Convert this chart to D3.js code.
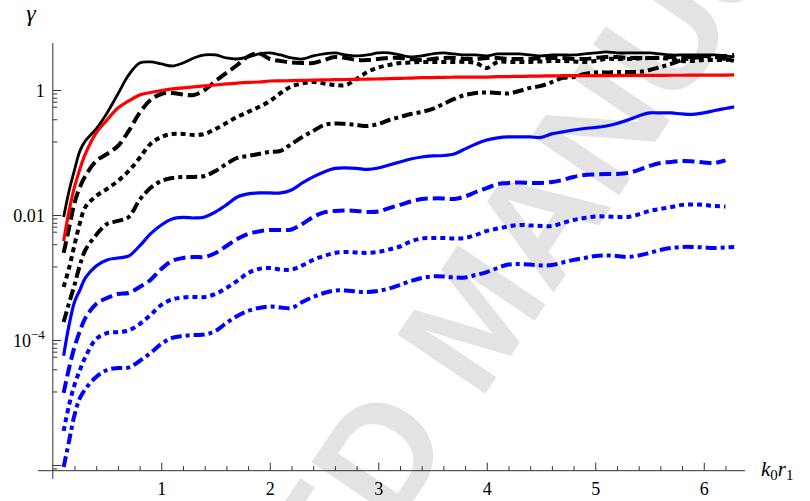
<!DOCTYPE html>
<html>
<head>
<meta charset="utf-8">
<title>gamma vs k0 r1</title>
<script src="https://d3js.org/d3.v7.min.js"></script>
<style>
  body { margin: 0; background: #fff; }
  svg { display: block; }
  .serif { font-family: "Liberation Serif", "Times New Roman", Times, "DejaVu Serif", serif; }
  .tick text { font-family: "Liberation Serif", "Times New Roman", Times, "DejaVu Serif", serif; font-size: 18px; fill: #000; }
</style>
</head>
<body>
<svg width="810" height="501"></svg>
<script>
// k0 r1 sample points
var xs = [0.1, 0.15, 0.2, 0.25, 0.3,
  0.4, 0.5, 0.6, 0.7, 0.8, 0.9, 1.0, 1.1, 1.2, 1.3, 1.4, 1.5, 1.6, 1.7, 1.8, 1.9,
  2.0, 2.1, 2.2, 2.3, 2.4, 2.5, 2.6, 2.7, 2.8, 2.9, 3.0, 3.1, 3.2, 3.3, 3.4, 3.5,
  3.6, 3.7, 3.8, 3.9, 4.0, 4.1, 4.2, 4.3, 4.4, 4.5, 4.6, 4.7, 4.8, 4.9, 5.0, 5.1,
  5.2, 5.3, 5.4, 5.5, 5.6, 5.7, 5.8, 5.9, 6.0, 6.1, 6.2, 6.28];

// gamma, black curves
var blackSolid = [0.0093, 0.0242, 0.0525, 0.106, 0.153,
  0.238, 0.429, 0.863, 1.74, 2.70, 2.81, 2.61, 2.42, 2.70, 3.25, 3.63, 3.63, 3.25, 3.13, 3.37, 3.77,
  3.91, 3.63, 3.25, 3.13, 3.50, 3.77, 3.91, 3.63, 3.50, 3.63, 3.91, 3.91, 3.63, 3.37, 3.50, 3.77,
  3.91, 3.77, 3.63, 3.63, 3.50, 3.77, 3.77, 3.77, 3.63, 3.50, 3.63, 3.63, 3.63, 3.77, 3.91, 4.06,
  3.91, 3.91, 3.91, 3.91, 3.77, 3.63, 3.63, 3.63, 3.63, 3.63, 3.50, 3.37];
var blackDashed = [0.00247, 0.00619, 0.0156, 0.0281, 0.0421,
  0.0731, 0.0946, 0.127, 0.221, 0.429, 0.692, 0.863, 0.895, 0.847, 0.832, 1.00, 1.39, 1.87, 2.51, 3.43, 3.84,
  3.13, 2.91, 2.75, 2.70, 2.70, 3.02, 3.37, 3.25, 3.02, 3.02, 3.13, 3.25, 3.25, 3.13, 3.02, 3.13,
  3.25, 3.25, 3.13, 3.13, 3.25, 3.25, 3.13, 3.13, 3.13, 3.25, 3.25, 3.25, 3.13, 3.13, 3.25, 3.37,
  3.37, 3.25, 3.25, 3.25, 3.25, 3.37, 3.37, 3.37, 3.50, 3.50, 3.50, 3.63];
var blackDotted = [7.05e-4, 1.42e-3, 3.31e-3, 7.45e-3, 0.0134,
  0.0201, 0.0261, 0.0350, 0.0506, 0.0817, 0.137, 0.177, 0.198, 0.198, 0.191, 0.198, 0.238, 0.296, 0.370, 0.445, 0.535,
  0.66, 0.895, 1.14, 1.27, 1.34, 1.27, 1.20, 1.20, 1.50, 1.94, 2.29, 2.51, 2.70, 2.75, 2.81, 2.81,
  2.81, 2.81, 2.81, 2.70, 2.25, 2.81, 2.81, 2.81, 2.81, 2.86, 2.91, 2.91, 2.86, 2.81, 2.91, 3.13,
  3.13, 3.13, 3.19, 3.25, 3.25, 3.13, 2.91, 2.91, 3.02, 3.02, 3.02, 3.13];
var blackDashDot = [1.94e-4, 3.91e-4, 7.59e-4, 1.58e-3, 2.75e-3,
  4.79e-3, 7.18e-3, 8.02e-3, 9.29e-3, 0.0174, 0.0270, 0.0350, 0.0391, 0.0406, 0.0406, 0.0421, 0.0506, 0.0655, 0.0817, 0.0879, 0.0946,
  0.102, 0.106, 0.137, 0.177, 0.221, 0.275, 0.291, 0.286, 0.275, 0.265, 0.286, 0.331, 0.370, 0.413, 0.445, 0.497,
  0.597, 0.718, 0.832, 0.895, 0.912, 0.895, 0.879, 0.964, 1.08, 1.16, 1.34, 1.56, 1.61, 1.80, 1.91, 1.91,
  1.94, 1.94, 1.94, 2.09, 2.33, 2.61, 3.02, 3.25, 3.37, 3.37, 3.13, 2.91];

// gamma, red curve
var redSolid = [0.0038, 0.0116, 0.0281, 0.0545, 0.0946,
  0.205, 0.331, 0.515, 0.667, 0.832, 0.912, 0.982, 1.04, 1.08, 1.12, 1.16, 1.20, 1.25, 1.29, 1.32, 1.34,
  1.39, 1.40, 1.41, 1.42, 1.44, 1.45, 1.46, 1.47, 1.48, 1.49, 1.50, 1.52, 1.53, 1.55, 1.57, 1.58,
  1.59, 1.60, 1.60, 1.61, 1.61, 1.63, 1.64, 1.65, 1.66, 1.67, 1.68, 1.69, 1.69, 1.69, 1.69, 1.70,
  1.70, 1.71, 1.71, 1.71, 1.71, 1.72, 1.72, 1.73, 1.73, 1.73, 1.73, 1.74];

// gamma, blue curves
var blueSolid = [5.6e-5, 1.74e-4, 4.06e-4, 6.31e-4, 9.82e-4,
  1.53e-3, 1.91e-3, 2.05e-3, 2.21e-3, 3.19e-3, 4.97e-3, 6.92e-3, 8.63e-3, 9.12e-3, 8.95e-3, 9.29e-3, 0.0112, 0.0145, 0.0194, 0.0217, 0.0225,
  0.0225, 0.0225, 0.0251, 0.0325, 0.0406, 0.0488, 0.0555, 0.0565, 0.0555, 0.0535, 0.0565, 0.0631, 0.0705, 0.0787, 0.0847, 0.0879,
  0.0895, 0.0946, 0.114, 0.137, 0.158, 0.171, 0.177, 0.177, 0.177, 0.174, 0.198, 0.213, 0.229, 0.242, 0.251, 0.265,
  0.291, 0.331, 0.384, 0.429, 0.429, 0.429, 0.413, 0.406, 0.429, 0.470, 0.506, 0.535];
var blueDashed = [1.42e-5, 3.56e-5, 7.73e-5, 1.39e-4, 2.25e-4,
  3.77e-4, 4.70e-4, 5.45e-4, 5.65e-4, 7.05e-4, 9.12e-4, 1.37e-3, 1.84e-3, 2.05e-3, 2.13e-3, 2.13e-3, 2.47e-3, 3.19e-3, 4.13e-3, 4.97e-3, 5.45e-3,
  5.75e-3, 5.75e-3, 5.86e-3, 7.18e-3, 9.29e-3, 0.0110, 0.0116, 0.0118, 0.0116, 0.0112, 0.0114, 0.0129, 0.0145, 0.0164, 0.0180, 0.0184,
  0.0184, 0.0180, 0.0198, 0.0233, 0.0270, 0.0313, 0.0325, 0.0331, 0.0325, 0.0325, 0.0337, 0.0363, 0.0406, 0.0437, 0.0445, 0.0453,
  0.0453, 0.0470, 0.0525, 0.0608, 0.0679, 0.0705, 0.0731, 0.0718, 0.0692, 0.0679, 0.0745];
var blueDotted = [3.50e-6, 9.12e-6, 1.91e-5, 3.31e-5, 5.35e-5,
  1.04e-4, 1.29e-4, 1.34e-4, 1.42e-4, 1.80e-4, 2.51e-4, 3.63e-4, 4.45e-4, 4.79e-4, 4.88e-4, 4.88e-4, 5.45e-4, 6.79e-4, 8.79e-4, 1.18e-3, 1.37e-3,
  1.42e-3, 1.34e-3, 1.34e-3, 1.56e-3, 1.91e-3, 2.21e-3, 2.47e-3, 2.56e-3, 2.51e-3, 2.47e-3, 2.56e-3, 2.81e-3, 3.13e-3, 3.77e-3, 4.21e-3, 4.29e-3,
  4.29e-3, 4.21e-3, 4.29e-3, 4.79e-3, 5.55e-3, 6.08e-3, 6.55e-3, 6.92e-3, 6.79e-3, 6.67e-3, 6.67e-3, 7.45e-3, 8.32e-3, 8.95e-3, 9.46e-3, 9.46e-3,
  9.29e-3, 9.29e-3, 0.0102, 0.0116, 0.0125, 0.0134, 0.0145, 0.0147, 0.0145, 0.0139, 0.0137];
var blueDashDot = [9.29e-7, 2.42e-6, 6.31e-6, 1.18e-5, 1.64e-5,
  2.56e-5, 3.31e-5, 3.56e-5, 3.63e-5, 4.61e-5, 6.19e-5, 8.63e-5, 1.08e-4, 1.16e-4, 1.20e-4, 1.22e-4, 1.39e-4, 1.87e-4, 2.42e-4, 2.91e-4, 3.25e-4,
  3.44e-4, 3.31e-4, 3.25e-4, 4.06e-4, 4.88e-4, 5.65e-4, 6.19e-4, 6.19e-4, 5.97e-4, 5.86e-4, 6.08e-4, 6.67e-4, 7.59e-4, 8.79e-4, 9.82e-4, 1.04e-3,
  1.04e-3, 1.00e-3, 1.00e-3, 1.10e-3, 1.22e-3, 1.42e-3, 1.61e-3, 1.64e-3, 1.61e-3, 1.56e-3, 1.58e-3, 1.74e-3, 1.91e-3, 2.05e-3, 2.21e-3, 2.25e-3,
  2.21e-3, 2.13e-3, 2.25e-3, 2.47e-3, 2.75e-3, 2.96e-3, 3.08e-3, 3.08e-3, 3.02e-3, 2.96e-3, 3.02e-3, 3.08e-3];

// ticks
var xTicks = [1, 2, 3, 4, 5, 6];
var xMinorTicks = [0.2, 0.4, 0.6, 0.8, 1.2, 1.4, 1.6, 1.8, 2.2, 2.4, 2.6, 2.8, 3.2, 3.4, 3.6, 3.8,
  4.2, 4.4, 4.6, 4.8, 5.2, 5.4, 5.6, 5.8, 6.2];
var yTicks = [1e-6, 1e-4, 0.01, 1];
var yTickLabels = [["", ""], ["10", "\u22124"], ["0.01", ""], ["1", ""]];
var yMinorSteps = [0.88, 0.75, 0.65, 0.54, 0.34, 0.15];

var svg = d3.select("svg");

var x = d3.scaleLinear().domain([0, 6.38]).range([52.8, 745]);
var y = d3.scaleLog().domain([8.1e-7, 5.6]).range([470.7, 43.2]);

// watermark
svg.append("text")
    .attr("transform", "translate(-18,1140) rotate(-56)")
    .attr("font-family", "Liberation Sans, Arial, sans-serif")
    .attr("font-size", 154)
    .attr("font-weight", "bold")
    .attr("fill", "#e3e3e3")
    .text("ACCEPTED MANUSCRIPT");

// x axis
var x0 = y.range()[0];
svg.append("g")
    .attr("transform", "translate(0," + x0 + ")")
    .call(d3.axisBottom(x).tickValues(xMinorTicks).tickSizeInner(-4.5).tickSizeOuter(0).tickFormat(""));
var gx = svg.append("g")
    .attr("transform", "translate(0," + x0 + ")")
    .call(d3.axisBottom(x).tickValues(xTicks).tickSizeInner(-8).tickSizeOuter(0).tickFormat(d3.format("d")));
gx.selectAll("text").attr("y", 24.3).attr("dy", null);

// y axis
var minor = [];
yTicks.forEach(function (m) {
    yMinorSteps.forEach(function (s) {
        if (m * s > y.domain()[0]) minor.push(m * s);
    });
});
svg.append("g")
    .attr("transform", "translate(" + x(0) + ",0)")
    .call(d3.axisLeft(y).tickValues(minor).tickSizeInner(-4.5).tickSizeOuter(0).tickFormat(""));
var gy = svg.append("g")
    .attr("transform", "translate(" + x(0) + ",0)")
    .call(d3.axisLeft(y).tickValues(yTicks).tickSizeInner(-8.5).tickSizeOuter(0).tickFormat(""));
gy.selectAll(".tick text").each(function (d, i) {
    var lab = yTickLabels[i];
    var t = d3.select(this).attr("x", -8).attr("dy", "0.36em");
    t.append("tspan").text(lab[0]);
    if (lab[1]) t.append("tspan").attr("font-size", 13).attr("dy", "-0.65em").text(lab[1]);
});

svg.selectAll(".domain").remove();
svg.selectAll("g").attr("font-family", null);
svg.selectAll(".tick line").attr("stroke", "#333").attr("stroke-width", 1);

svg.append("line").attr("x1", 38).attr("x2", 745).attr("y1", x0).attr("y2", x0)
    .attr("stroke", "#333").attr("stroke-width", 1);
svg.append("line").attr("x1", x(0)).attr("x2", x(0)).attr("y1", 43).attr("y2", 479)
    .attr("stroke", "#333").attr("stroke-width", 1);

// curves
var series = [
    { values: blueDashDot, color: "#0000ff", width: 4, dash: "11,4,4,4" },
    { values: blueDotted, color: "#0000ff", width: 4, dash: "5,4" },
    { values: blueDashed, color: "#0000ff", width: 4, dash: "12,5" },
    { values: blueSolid, color: "#0000ff", width: 3.2, dash: null },
    { values: blackDashDot, color: "#000", width: 4, dash: "11,4,4,4" },
    { values: blackDotted, color: "#000", width: 4, dash: "5,4" },
    { values: blackDashed, color: "#000", width: 4, dash: "12,5" },
    { values: blackSolid, color: "#000", width: 2.8, dash: null },
    { values: redSolid, color: "#ff0000", width: 3.2, dash: null }
];

var line = d3.line()
    .x(function (d, i) { return x(xs[i]); })
    .y(function (d) { return y(d); })
    .curve(d3.curveCatmullRom.alpha(0.5));

svg.append("g").selectAll("path")
    .data(series)
    .enter().append("path")
    .attr("d", function (d) { return line(d.values); })
    .attr("fill", "none")
    .attr("stroke", function (d) { return d.color; })
    .attr("stroke-width", function (d) { return d.width; })
    .attr("stroke-dasharray", function (d) { return d.dash; })
    .attr("stroke-linejoin", "round");

// axis labels
svg.append("text")
    .attr("class", "serif")
    .attr("x", 31).attr("y", 21)
    .attr("text-anchor", "middle")
    .attr("font-style", "italic")
    .attr("font-size", 24)
    .text("\u03b3");

var xl = svg.append("text")
    .attr("class", "serif")
    .attr("x", 761).attr("y", 476)
    .attr("font-size", 21);
xl.append("tspan").attr("font-style", "italic").text("k");
xl.append("tspan").attr("font-size", 15).attr("dy", 4).text("0");
xl.append("tspan").attr("font-style", "italic").attr("dy", -4).text("r");
xl.append("tspan").attr("font-size", 15).attr("dy", 4).text("1");
</script>
</body>
</html>
